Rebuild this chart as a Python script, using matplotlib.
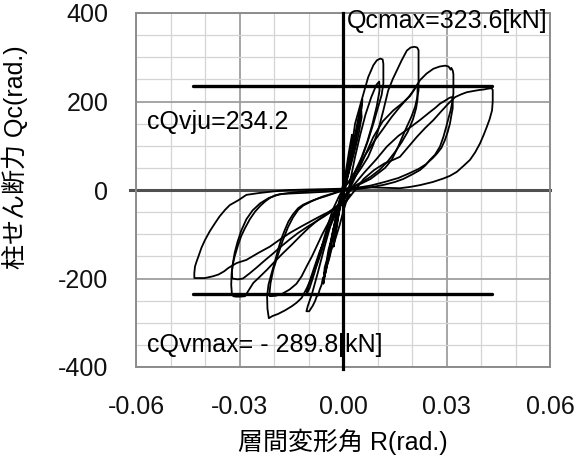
import matplotlib
matplotlib.use("Agg")
import matplotlib.pyplot as plt
from matplotlib.ticker import MultipleLocator

plt.rcParams['font.family'] = ['Liberation Sans', 'Noto Sans CJK JP']

# Story drift angle R (rad.) vs. column shear Qc (kN), one list of (R, Qc) per loading cycle
cycle_0025_a = [(0.0, 0), (0.0008, 40), (0.0017, 85), (0.0026, 125), (0.0027, 112), (0.0019, 72),
                (0.0009, 35), (0.0001, 10), (-0.0009, -35), (-0.0018, -85), (-0.0027, -128),
                (-0.0027, -112), (-0.0018, -75), (-0.0008, -38), (0.0001, -8)]
cycle_0025_b = [(0.0001, -8), (0.001, 35), (0.0019, 80), (0.0026, 115), (0.0025, 100), (0.0016, 62),
                (0.0006, 28), (-0.0002, 5), (-0.0011, -40), (-0.002, -88), (-0.0026, -120),
                (-0.0025, -104), (-0.0016, -66), (-0.0006, -30), (0.0002, -4)]
cycle_005_a = [(0.0002, -4), (0.0014, 40), (0.0027, 95), (0.004, 145), (0.005, 185), (0.0056, 205),
               (0.0055, 190), (0.0046, 148), (0.0033, 98), (0.0019, 52), (0.0007, 20), (-0.0006, -12),
               (-0.0019, -55), (-0.0032, -108), (-0.0044, -158), (-0.0053, -195), (-0.0057, -212),
               (-0.0054, -196), (-0.0049, -182), (-0.0046, -170), (-0.0041, -158), (-0.0037, -146),
               (-0.0031, -112), (-0.0018, -68), (-0.0006, -30), (0.0003, -6)]
cycle_005_b = [(0.0003, -6), (0.0016, 38), (0.003, 92), (0.0043, 140), (0.0053, 178), (0.0054, 165),
               (0.0045, 125), (0.0031, 80), (0.0017, 40), (0.0005, 12), (-0.0008, -18), (-0.0021, -62),
               (-0.0035, -118), (-0.0047, -165), (-0.0055, -192), (-0.0053, -175), (-0.0047, -158),
               (-0.0042, -135), (-0.0036, -118), (-0.0028, -88), (-0.0014, -48), (-0.0002, -15)]
cycle_01_a = [(-0.0002, -15), (0.0008, 10), (0.0015, 38), (0.0025, 95), (0.0035, 150), (0.0054, 203),
              (0.0073, 255), (0.0088, 282), (0.0098, 293), (0.0108, 297), (0.0115, 295), (0.0117, 285),
              (0.0117, 241), (0.0112, 215), (0.0102, 188), (0.0088, 150), (0.0073, 113), (0.0058, 80),
              (0.0044, 53), (0.0028, 30), (0.0015, 17), (0.0, 3), (-0.0014, -34), (-0.0033, -71),
              (-0.0052, -124), (-0.0072, -184), (-0.009, -235), (-0.0102, -262), (-0.0106, -274),
              (-0.0098, -274), (-0.0088, -262), (-0.0081, -251), (-0.0076, -240), (-0.0072, -238),
              (-0.0068, -226), (-0.0062, -214), (-0.0058, -198), (-0.0055, -196), (-0.0049, -178),
              (-0.0043, -161), (-0.0036, -140), (-0.0023, -113), (-0.001, -80), (0.0002, -45),
              (0.0012, -20)]
cycle_01_b = [(0.0012, -20), (0.0022, 25), (0.0035, 75), (0.005, 125), (0.0065, 170), (0.0082, 210),
              (0.0097, 238), (0.0105, 245), (0.0106, 225), (0.0098, 190), (0.0085, 148), (0.007, 108),
              (0.0053, 72), (0.0035, 42), (0.0018, 20), (0.0003, 5), (-0.0012, -15), (-0.003, -45),
              (-0.0048, -90), (-0.0066, -140), (-0.0083, -188), (-0.0097, -222), (-0.0105, -235),
              (-0.0104, -225), (-0.0094, -200), (-0.0082, -172), (-0.0068, -140), (-0.0052, -110),
              (-0.0036, -80), (-0.002, -52), (-0.0006, -30), (0.0008, -12)]
cycle_02_a = [(0.0008, -12), (0.002, 10), (0.0035, 30), (0.0053, 50), (0.0073, 75), (0.0088, 103),
              (0.0102, 135), (0.0117, 180), (0.0131, 225), (0.0145, 252), (0.0156, 270), (0.017, 293),
              (0.0185, 315), (0.0196, 322), (0.0207, 323.6), (0.0215, 322), (0.0219, 316), (0.0219, 225),
              (0.0214, 205), (0.0209, 188), (0.0198, 165), (0.0185, 143), (0.0172, 120), (0.016, 98),
              (0.0141, 68), (0.0122, 50), (0.0102, 38), (0.008, 25), (0.0054, 15), (0.003, 7),
              (0.0008, 0), (-0.002, -6), (-0.005, -14), (-0.0075, -20), (-0.0095, -26), (-0.0115, -33),
              (-0.013, -41), (-0.0145, -55), (-0.0158, -71), (-0.0168, -89), (-0.0178, -109),
              (-0.0188, -134), (-0.0197, -161), (-0.0207, -188), (-0.0216, -214), (-0.022, -240),
              (-0.0219, -268), (-0.0215, -289.8), (-0.0205, -285), (-0.0188, -280), (-0.0168, -272),
              (-0.0149, -263), (-0.0135, -255), (-0.012, -244), (-0.0105, -222), (-0.0091, -199),
              (-0.0076, -170), (-0.0062, -139), (-0.0052, -112), (-0.0043, -86), (-0.0033, -68),
              (-0.0023, -49), (-0.001, -35), (0.0005, -18)]
cycle_02_b = [(0.0005, -18), (0.0035, 38), (0.0065, 80), (0.0093, 113), (0.0118, 140), (0.0141, 165),
              (0.0165, 188), (0.019, 210), (0.0205, 225), (0.0213, 235), (0.0216, 232), (0.0216, 205),
              (0.0212, 185), (0.0203, 160), (0.0188, 132), (0.017, 108), (0.015, 85), (0.013, 65),
              (0.0105, 45), (0.008, 30), (0.0055, 18), (0.003, 8), (0.0, 0), (-0.003, -8), (-0.006, -15),
              (-0.009, -25), (-0.0115, -35), (-0.013, -45), (-0.0145, -62), (-0.016, -85),
              (-0.0175, -115), (-0.019, -150), (-0.0202, -180), (-0.021, -210), (-0.0213, -232),
              (-0.0212, -240), (-0.0195, -239), (-0.0175, -234), (-0.0155, -225), (-0.0135, -212),
              (-0.012, -195), (-0.0105, -172), (-0.009, -150), (-0.0075, -125), (-0.006, -100),
              (-0.0045, -78), (-0.003, -55), (-0.0015, -35), (0.0, -18), (0.0015, -5)]
cycle_03_a = [(0.0015, -5), (0.003, 20), (0.0045, 45), (0.0065, 80), (0.0088, 120), (0.0115, 155),
              (0.0146, 180), (0.017, 195), (0.0194, 212), (0.021, 232), (0.0223, 248), (0.0242, 263),
              (0.0262, 274), (0.028, 279), (0.0296, 281), (0.0306, 279), (0.0312, 272), (0.0314, 276),
              (0.0318, 270), (0.032, 262), (0.032, 218), (0.0317, 200), (0.0312, 180), (0.0305, 160),
              (0.03, 145), (0.0291, 120), (0.0281, 98), (0.0267, 80), (0.0252, 68), (0.0238, 55),
              (0.0223, 45), (0.02, 35), (0.0175, 25), (0.015, 18), (0.012, 12), (0.008, 6), (0.004, 2),
              (0.0, -1), (-0.005, -4), (-0.01, -6), (-0.0155, -8), (-0.0178, -9), (-0.0197, -12),
              (-0.0212, -18), (-0.0226, -26), (-0.024, -36), (-0.0255, -49), (-0.027, -66),
              (-0.0284, -86), (-0.0295, -104), (-0.0304, -124), (-0.0314, -150), (-0.032, -170),
              (-0.0323, -190), (-0.0324, -215), (-0.0322, -235), (-0.0318, -240), (-0.031, -241),
              (-0.0298, -241), (-0.0284, -240), (-0.0272, -225), (-0.026, -210), (-0.0245, -199),
              (-0.022, -180), (-0.0197, -161), (-0.0173, -142), (-0.0149, -124), (-0.0125, -105),
              (-0.01, -86), (-0.0076, -70), (-0.0052, -56), (-0.0033, -45), (-0.0014, -34),
              (0.0005, -20)]
cycle_03_b = [(0.0005, -20), (0.003, 10), (0.006, 38), (0.0095, 68), (0.0127, 98), (0.016, 122),
              (0.0192, 140), (0.0223, 158), (0.025, 175), (0.0268, 186), (0.0281, 195), (0.0298, 203),
              (0.0308, 208), (0.0315, 210), (0.0318, 205), (0.0318, 185), (0.0314, 168), (0.031, 150),
              (0.0303, 130), (0.0295, 112), (0.0285, 95), (0.0272, 82), (0.026, 72), (0.024, 58),
              (0.022, 48), (0.019, 37), (0.016, 27), (0.012, 18), (0.008, 10), (0.004, 5), (0.0, 2),
              (-0.005, 0), (-0.01, -2), (-0.015, -6), (-0.0185, -10), (-0.0215, -18), (-0.024, -30),
              (-0.0262, -46), (-0.028, -66), (-0.0295, -92), (-0.0306, -118), (-0.0314, -142),
              (-0.0319, -165), (-0.0322, -185), (-0.0321, -200), (-0.0305, -202), (-0.029, -200),
              (-0.027, -188), (-0.025, -175), (-0.0228, -160), (-0.0205, -145), (-0.018, -128),
              (-0.0155, -112), (-0.013, -97), (-0.0105, -84), (-0.008, -72), (-0.0055, -60),
              (-0.003, -47), (-0.001, -36), (0.001, -25)]
cycle_045 = [(0.001, -25), (0.0035, 0), (0.006, 25), (0.009, 45), (0.012, 60), (0.0145, 68),
             (0.0165, 75), (0.019, 98), (0.0214, 120), (0.0238, 140), (0.0262, 158), (0.0285, 178),
             (0.0305, 195), (0.0325, 210), (0.0342, 216), (0.0359, 221), (0.038, 224), (0.0395, 226),
             (0.0407, 227), (0.042, 229), (0.0431, 230), (0.0434, 226), (0.0434, 200), (0.0432, 180),
             (0.0425, 160), (0.0417, 143), (0.0408, 125), (0.0397, 105), (0.0383, 85), (0.0368, 68),
             (0.035, 55), (0.033, 41), (0.031, 32), (0.0291, 26), (0.026, 18), (0.0223, 11),
             (0.0195, 7), (0.0165, 4), (0.012, 5), (0.008, 6), (0.004, 5), (0.0, 3), (-0.005, 2),
             (-0.0105, 1), (-0.0154, 0), (-0.02, -3), (-0.0245, -7), (-0.028, -11), (-0.0303, -23),
             (-0.0328, -34), (-0.0342, -45), (-0.0358, -60), (-0.0371, -75), (-0.0386, -93),
             (-0.04, -113), (-0.041, -130), (-0.0419, -150), (-0.0425, -163), (-0.0429, -173),
             (-0.0431, -188), (-0.0431, -199), (-0.0415, -199), (-0.04, -199), (-0.0377, -195),
             (-0.0361, -191), (-0.0345, -184), (-0.0332, -176), (-0.0308, -165), (-0.028, -158),
             (-0.0245, -142), (-0.0212, -128), (-0.0183, -112), (-0.0154, -97), (-0.012, -82),
             (-0.0087, -68), (-0.0058, -56), (-0.0029, -45), (-0.001, -36), (0.001, -23),
             (0.002, -10)]

cycles = [cycle_0025_a, cycle_0025_b, cycle_005_a, cycle_005_b, cycle_01_a, cycle_01_b,
          cycle_02_a, cycle_02_b, cycle_03_a, cycle_03_b, cycle_045]

# Reference shear levels
qv_ju = 234.2
qv_ju_span = [-0.0434, 0.0432]
qc_max = 323.6
qv_max = -289.8

x_ticks = [-0.06, -0.03, 0.0, 0.03, 0.06]
x_tick_labels = ['-0.06', '-0.03', '0.00', '0.03', '0.06']
y_ticks = [-400, -200, 0, 200, 400]
y_tick_labels = ['-400', '-200', '0', '200', '400']

fig = plt.figure(figsize=(5.77, 4.63), dpi=100)
ax = fig.add_axes([136 / 577, 96 / 463, 414 / 577, 354 / 463])
ax.set_xlim(-0.06, 0.06)
ax.set_ylim(-400, 400)

ax.xaxis.set_minor_locator(MultipleLocator(0.01))
ax.yaxis.set_minor_locator(MultipleLocator(50))
ax.set_xticks(x_ticks)
ax.set_xticklabels(x_tick_labels)
ax.set_yticks(y_ticks)
ax.set_yticklabels(y_tick_labels)
ax.grid(which='minor', color='#d4d4d4', lw=0.9)
ax.grid(which='major', color='#9e9e9e', lw=1.3)
ax.set_axisbelow(True)
ax.tick_params(which='both', length=0, labelsize=18, colors='#111111')
ax.tick_params(axis='y', pad=20)
ax.tick_params(axis='x', pad=20)
for s in ax.spines.values():
    s.set_color('#8c8c8c')
    s.set_linewidth(1.4)

# zero-shear axis
ax.plot([-0.0618, 0.06], [0, 0], color='#505050', lw=2.2, clip_on=False, zorder=2)

for cyc in cycles:
    rr = [p[0] for p in cyc]
    qq = [p[1] for p in cyc]
    ax.plot(rr, qq, color='black', lw=1.3, zorder=3)

# zero-drift axis and ultimate shear strength lines
ax.plot([0, 0], [-404, 400], color='black', lw=2.3, zorder=4, clip_on=False)
ax.plot(qv_ju_span, [qv_ju, qv_ju], color='black', lw=2.4, zorder=4, solid_capstyle='round')
ax.plot(qv_ju_span, [-qv_ju, -qv_ju], color='black', lw=2.4, zorder=4, solid_capstyle='round')

ax.text(0.0012, 381, f'Qcmax={qc_max}[kN]', fontsize=18, ha='left', va='center', zorder=5)
ax.text(-0.0569, 153, f'cQvju={qv_ju}', fontsize=18, ha='left', va='center', zorder=5)
ax.text(-0.0569, -351, f'cQvmax= - {abs(qv_max)}[kN]', fontsize=18, ha='left', va='center', zorder=5)

ax.set_xlabel('層間変形角 R(rad.)', fontsize=18, labelpad=7)
ax.set_ylabel('柱せん断力 Qc(rad.)', fontsize=18)
ax.yaxis.set_label_coords(-0.262, 0.594)

fig.savefig('out.png', dpi=100)
